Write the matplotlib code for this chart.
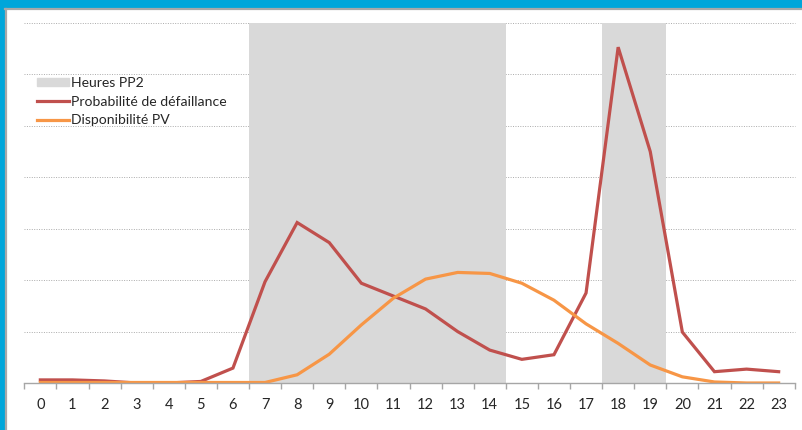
import matplotlib
matplotlib.use('Agg')
import matplotlib.pyplot as plt
from matplotlib.patches import Rectangle
from matplotlib.lines import Line2D

hours = list(range(24))
defaillance = [0.06, 0.06, 0.04, 0.0, 0.0, 0.03, 0.29, 1.97, 3.12, 2.73, 1.94, 1.69,
               1.44, 1.0, 0.64, 0.46, 0.55, 1.75, 6.53, 4.5, 0.99, 0.22, 0.27, 0.22]
dispo_pv = [0.01, 0.01, 0.01, 0.01, 0.01, 0.01, 0.01, 0.01, 0.16, 0.56, 1.13, 1.65,
            2.02, 2.15, 2.13, 1.94, 1.61, 1.15, 0.77, 0.35, 0.12, 0.02, 0.0, 0.0]
pp2_periods = [(6.5, 14.5), (17.5, 19.5)]
labels = ["Heures PP2", "Probabilité de défaillance", "Disponibilité PV"]

RED = "#C0504D"
ORANGE = "#F79646"
SHADE = "#D9D9D9"

W, H = 803, 430
fig = plt.figure(figsize=(W / 100, H / 100), dpi=100)
plt.rcParams['font.family'] = ['Lato', 'DejaVu Sans']

# outer blue frame and grey chart border
fig.patches.append(Rectangle((0, 1 - 7 / H), 1, 7 / H, transform=fig.transFigure,
                             color="#00A6DA", zorder=0))
fig.patches.append(Rectangle((0, 0), 5 / W, 1, transform=fig.transFigure,
                             color="#00A6DA", zorder=0))
fig.lines.append(Line2D([5 / W, 1], [1 - 9 / H, 1 - 9 / H], transform=fig.transFigure,
                        color="#A8A8A8", lw=1.6))
fig.lines.append(Line2D([6.5 / W, 6.5 / W], [0, 1 - 9 / H], transform=fig.transFigure,
                        color="#A8A8A8", lw=1.6))

ax = fig.add_axes([24.3 / W, 1 - 383 / H, (794.7 - 24.3) / W, 360 / H])
ax.set_xlim(-0.5, 23.5)
ax.set_ylim(0, 7)

for a, b in pp2_periods:
    ax.axvspan(a, b, color=SHADE, lw=0, zorder=1)

for yv in range(1, 8):
    ax.axhline(yv, color="#ABABAB", lw=0.7, ls=(0, (1, 1.5)), zorder=0.5, clip_on=False)

ax.plot(hours, defaillance, color=RED, lw=2.3, zorder=3, solid_joinstyle='miter')
ax.plot(hours, dispo_pv, color=ORANGE, lw=2.3, zorder=3, solid_joinstyle='miter')

for s in ["top", "right", "left"]:
    ax.spines[s].set_visible(False)
ax.spines["bottom"].set_color("#A6A6A6")
ax.spines["bottom"].set_linewidth(1.0)
ax.spines["bottom"].set_zorder(4)

ax.set_yticks([])
ax.set_xticks(hours)
ax.set_xticklabels([str(h) for h in hours])
ax.set_xticks([h - 0.5 for h in range(25)], minor=True)
ax.tick_params(axis='x', which='major', length=0, pad=11, labelsize=10.5,
               labelcolor="#262626")
ax.tick_params(axis='x', which='minor', length=4.5, width=1.0, color="#A6A6A6",
               direction='out')

handles = [Rectangle((0, 0), 1, 1, color=SHADE),
           Line2D([], [], color=RED, lw=2.3),
           Line2D([], [], color=ORANGE, lw=2.3)]
fig.legend(handles, labels, loc='upper left', bbox_to_anchor=(37 / W, 1 - 77 / H),
           frameon=False, fontsize=10.1, handlelength=2.3, handleheight=0.55,
           handletextpad=0.12, labelspacing=0.48, borderpad=0, borderaxespad=0,
           labelcolor="#262626")

fig.savefig("out.png", dpi=100)
